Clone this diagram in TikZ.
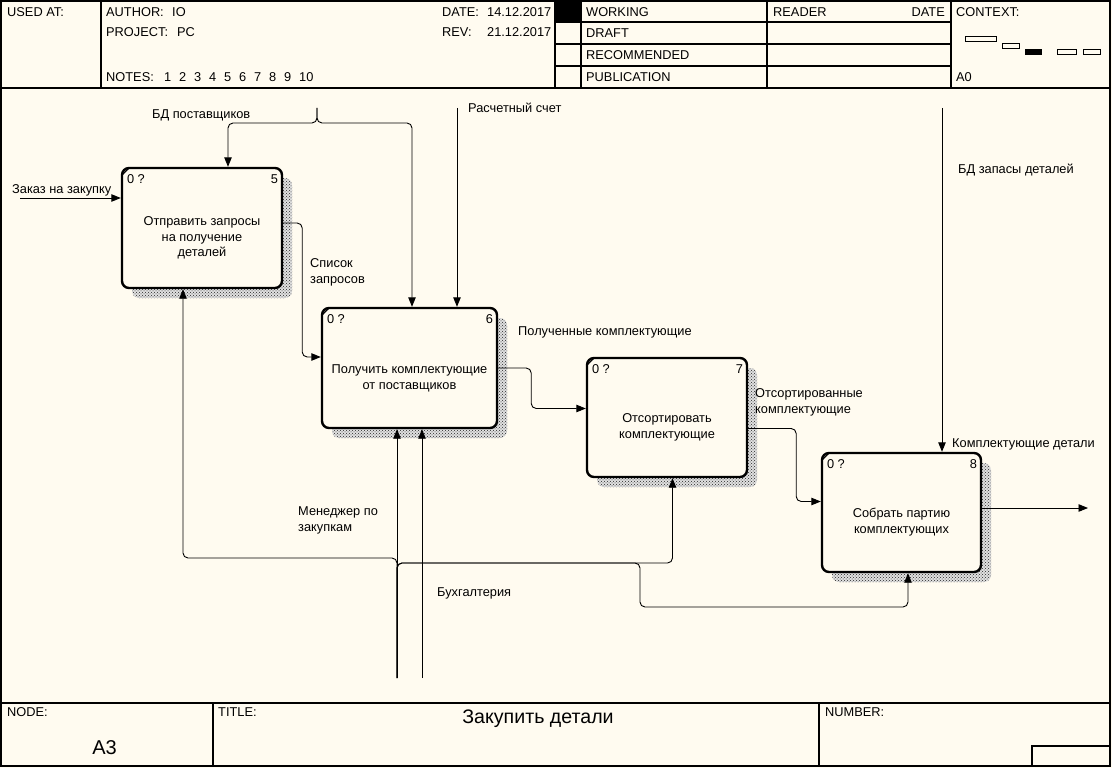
\documentclass[tikz,border=0pt]{standalone}
\usepackage{fontspec}
\setmainfont{Liberation Sans}
\usetikzlibrary{arrows.meta,patterns}
\definecolor{bgc}{RGB}{255,251,240}
\newcommand\fnbox[7]{%
  \fill[shadowpat, rounded corners=7pt] (#2-#4/2+10,#3-#5/2+10) rectangle (#2+#4/2+10,#3+#5/2+10);
  \node[fbox, minimum width=#4pt, minimum height=#5pt] (#1) at (#2,#3) {};
  \node[align=center, font=\fontsize{12.8}{15.8}\selectfont] (#1t) at ([shift={(0,10)}]#1.center) {#6};
  \node[anchor=west] (#1z) at ([shift={(6,12)}]#1.north west) {0 ?};
  \node[anchor=east] (#1n) at ([shift={(-5,12)}]#1.north east) {#7};
  \draw[line width=1pt] ([shift={(1.5,8)}]#1.north west) -- ([shift={(8,1.5)}]#1.north west);
}
\begin{document}
\begin{tikzpicture}[x=1pt,y=-1pt,
  every node/.style={inner sep=0pt, font=\fontsize{12.8}{15}\selectfont},
  lbl/.style={anchor=west, align=left, font=\fontsize{12.8}{16}\selectfont},
  frame/.style={line width=1.3pt},
  fbox/.style={draw, line width=2.4pt, rounded corners=7pt, fill=bgc},
  shadowpat/.style={preaction={fill=black!12}, pattern=crosshatch dots, pattern color=black!85},
  conn/.style={draw, line width=0.9pt, rounded corners=5pt, -{Triangle[length=9.5pt,width=7.5pt]}},
  icon/.style={draw, line width=0.9pt}
  ]
\useasboundingbox (0,0) rectangle (1112,768);
\fill[bgc] (0,0) rectangle (1112,768);

% ---------- frame ----------
\draw[line width=1.6pt] (1,1) rectangle (1110,766);
\draw[frame] (1,88) -- (1110,88);
\draw[frame] (101,1) -- (101,88);
\draw[frame] (555,1) -- (555,88);
\draw[frame] (581,1) -- (581,88);
\draw[frame] (767,1) -- (767,88);
\draw[frame] (951,1) -- (951,88);
\foreach \yy in {22,44,66} \draw[frame] (555,\yy) -- (951,\yy);
\fill[black] (555,1) rectangle (581,22);
\draw[frame] (1,703) -- (1110,703);
\draw[frame] (213,703) -- (213,766);
\draw[frame] (819,703) -- (819,766);
\draw[frame] (1032,746) rectangle (1110,766);

% ---------- header texts ----------
\node[anchor=west] (usedat) at (7,12) {USED AT:};
\node[anchor=west] (author) at (106,12) {AUTHOR:};
\node[anchor=west] (authorv) at (172,12) {IO};
\node[anchor=west] (project) at (106,32) {PROJECT:};
\node[anchor=west] (projectv) at (177,32) {PC};
\node[anchor=west] (notes) at (106,77) {NOTES:};
\foreach \i in {1,...,10} \node[anchor=west] (note\i) at (164+15*\i-15,77) {\i};
\node[anchor=west] (date) at (442,12) {DATE:};
\node[anchor=west] (datev) at (487,12) {14.12.2017};
\node[anchor=west] (rev) at (442,32) {REV:};
\node[anchor=west] (revv) at (487,32) {21.12.2017};
\node[anchor=west] (working) at (586,12) {WORKING};
\node[anchor=west] (draft) at (586,33) {DRAFT};
\node[anchor=west] (recommended) at (586,55) {RECOMMENDED};
\node[anchor=west] (publication) at (586,77) {PUBLICATION};
\node[anchor=west] (reader) at (773,12) {READER};
\node[anchor=east] (rdate) at (945,12) {DATE};
\node[anchor=west] (context) at (956,12) {CONTEXT:};
\node[anchor=west] (a0) at (956,77) {A0};
\draw[icon] (965,36) rectangle (996,41);
\draw[icon] (1002,43) rectangle (1019,48);
\fill[black] (1025,49) rectangle (1042,55);
\draw[icon] (1057,49) rectangle (1076,54);
\draw[icon] (1083,49) rectangle (1100,54);

% ---------- footer texts ----------
\node[anchor=west] (nodelbl) at (7,712) {NODE:};
\node (nodev) at (104.5,748) {\fontsize{20}{20}\selectfont A3};
\node[anchor=west] (titlelbl) at (218,712) {TITLE:};
\node (titlev) at (538,719) {\fontsize{19.6}{19.6}\selectfont Закупить детали};
\node[anchor=west] (numberlbl) at (825,712) {NUMBER:};

% ---------- function boxes ----------
\fnbox{b5}{202}{228}{160}{120}{Отправить запросы\\на получение\\деталей}{5}
\fnbox{b6}{409.5}{368}{175}{120}{Получить комплектующие\\от поставщиков}{6}
\fnbox{b7}{667}{417.5}{160}{119}{Отсортировать\\комплектующие}{7}
\fnbox{b8}{901.5}{512.5}{159}{119}{Собрать партию\\комплектующих}{8}

% ---------- free ends ----------
\coordinate (in1) at (20,198);
\coordinate (c1) at (317,108);
\coordinate (c2) at (457,108);
\coordinate (c3) at (942,108);
\coordinate (o1) at (1088,508);
\coordinate (m1) at (397,678);
\coordinate (m2) at (422,678);

% ---------- connectors ----------
\draw[conn] (in1) -- (b5.west |- in1);
\draw[conn] (c1) -- (317,123) -- (228,123) -- ([shift={(26,0)}]b5.north);
\draw[conn] (c1) -- (317,123) -- (412,123) -- ([shift={(2.5,0)}]b6.north);
\draw[conn] (c2) -- (c2 |- b6.north);
\draw[conn] (c3) -- (c3 |- b8.north);
\draw[conn] ([shift={(0,-5)}]b5.east) -- ++(19,0) |- ([shift={(0,-11)}]b6.west);
\draw[conn] (b6.east) -- ++(33,0) |- ([shift={(0,-9)}]b7.west);
\draw[conn] ([shift={(0,11)}]b7.east) -- ++(48,0) |- ([shift={(0,-11)}]b8.west);
\draw[conn] (b8.east |- o1) -- (o1);
\draw[conn] (m1) -- (m1 |- b6.south);
\draw[conn] (m2) -- (m2 |- b6.south);
\draw[conn] (m1) -- ++(0,-120) -| ([shift={(-19,0)}]b5.south);
\draw[conn] (m1) -- ++(0,-115) -| ([shift={(5.5,0)}]b7.south);
\draw[conn] (m1) -- ++(0,-115) -- (640,563) -- (640,607) -| ([shift={(6.5,0)}]b8.south);

% ---------- labels ----------
\node[lbl] (l1) at (12,190) {Заказ на закупку};
\node[lbl] (l2) at (152,115) {БД поставщиков};
\node[lbl] (l3) at (468,108) {Расчетный счет};
\node[lbl] (l4) at (310,272.5) {Список\\запросов};
\node[lbl] (l5) at (518,332) {Полученные комплектующие};
\node[lbl] (l6) at (755,402) {Отсортированные\\комплектующие};
\node[lbl] (l7) at (958,170) {БД запасы деталей};
\node[lbl] (l8) at (952,444) {Комплектующие детали};
\node[lbl] (l9) at (298,520.5) {Менеджер по\\закупкам};
\node[lbl] (l10) at (437,593) {Бухгалтерия};
\end{tikzpicture}
\end{document}
